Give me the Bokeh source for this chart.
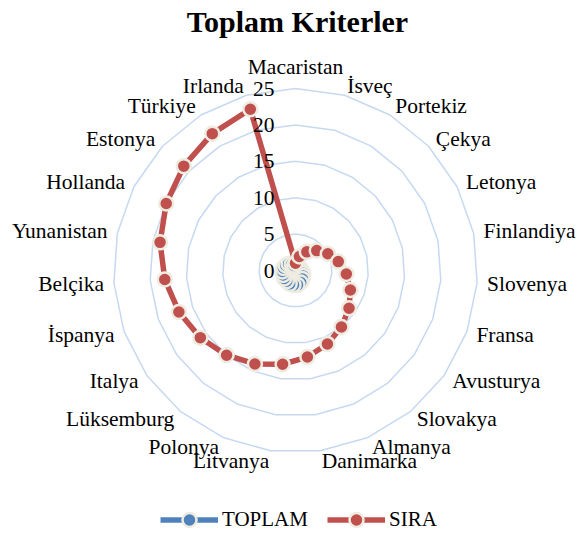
import math
from bokeh.plotting import figure
from bokeh.models import Range1d, Legend, LegendItem, ColumnDataSource
from bokeh.embed import file_html
from bokeh.resources import INLINE

categories = ["Macaristan", "İsveç", "Portekiz", "Çekya", "Letonya", "Finlandiya",
              "Slovenya", "Fransa", "Avusturya", "Slovakya", "Almanya", "Danimarka",
              "Litvanya", "Polonya", "Lüksemburg", "Italya", "İspanya", "Belçika",
              "Yunanistan", "Hollanda", "Estonya", "Türkiye", "Irlanda"]
toplam = [0.3, 0.4, 0.5, 0.6, 0.7, 0.8, 0.9, 1.1, 1.3, 1.5, 1.8, 2.0,
          2.0, 2.0, 1.9, 1.9, 1.8, 1.8, 1.7, 1.5, 1.3, 1.0, 0.7]
sira = [1, 2, 3, 4, 5, 6, 7, 8, 9, 10, 11, 12,
        13, 14, 15, 16, 17, 18, 19, 20, 21, 22, 23]
ticks = [0, 5, 10, 15, 20, 25]
title_text = "Toplam Kriterler"

W, H = 577, 536
CX, CY = 295, 270          # chart centre in figure pixels (from top-left)
RMAX = 25
K = 182 / RMAX             # pixels per unit
SERIF = "Liberation Serif"
FS = "21.5px"

p = figure(width=W, height=H, output_backend="svg", toolbar_location=None,
           x_range=Range1d(-CX / K, (W - CX) / K),
           y_range=Range1d(-(H - CY) / K, CY / K),
           min_border=0)
p.axis.visible = False
p.grid.visible = False
p.outline_line_color = None

n = len(categories)
angles = [2 * math.pi * i / n for i in range(n)]

def polar(vals):
    xs = [v * math.sin(a) for v, a in zip(vals, angles)]
    ys = [v * math.cos(a) for v, a in zip(vals, angles)]
    return xs, ys

# grid polygons
for t in ticks[1:]:
    xs, ys = polar([t] * n)
    p.line(xs + [xs[0]], ys + [ys[0]], line_color="#C6D9F1", line_width=1.5)

# series
def series(vals, color):
    xs, ys = polar(vals)
    ln = p.line(xs + [xs[0]], ys + [ys[0]], line_color=color, line_width=5.5,
                line_join="round")
    sc = p.scatter(xs, ys, size=14, fill_color=color, line_color="#EEECE1",
                   line_width=2.5)
    return ln, sc

bl, bs = series(toplam, "#4F81BD")
rl, rs = series(sira, "#C0504D")

# category labels
off = 192 / K
lx, ly, la, lb = [], [], [], []
for c, a in zip(categories, angles):
    s, co = math.sin(a), math.cos(a)
    lx.append(off * s)
    ly.append(off * co)
    if abs(s) < 0.1:
        la.append("center")
        lb.append("bottom" if co > 0 else "top")
    else:
        la.append("left" if s > 0 else "right")
        lb.append("middle")
src = ColumnDataSource(dict(x=lx, y=ly, t=categories, a=la, b=lb))
p.text("x", "y", text="t", source=src, text_align="a", text_baseline="b",
       text_font=SERIF, text_font_size=FS, text_color="#000000")

# tick labels
p.text([-21 / K] * len(ticks), ticks, text=[str(t) for t in ticks],
       text_align="right", text_baseline="middle", text_font=SERIF,
       text_font_size=FS, text_color="#000000")

# title
p.text([(297 - CX) / K], [(CY - 21) / K], text=[title_text],
       text_align="center", text_baseline="middle", text_font=SERIF,
       text_font_size="30px", text_font_style="bold", text_color="#000000")

legend = Legend(items=[LegendItem(label="TOPLAM", renderers=[bl, bs]),
                       LegendItem(label="SIRA", renderers=[rl, rs])],
                orientation="horizontal", location=(160, -1),
                glyph_width=58, glyph_height=35, label_standoff=4, spacing=19,
                padding=0, margin=0, border_line_color=None,
                background_fill_alpha=0, label_text_font=SERIF,
                label_text_font_size="21px", label_text_color="#000000")
p.add_layout(legend, "center")

open("out.html", "w").write(file_html(p, INLINE))
